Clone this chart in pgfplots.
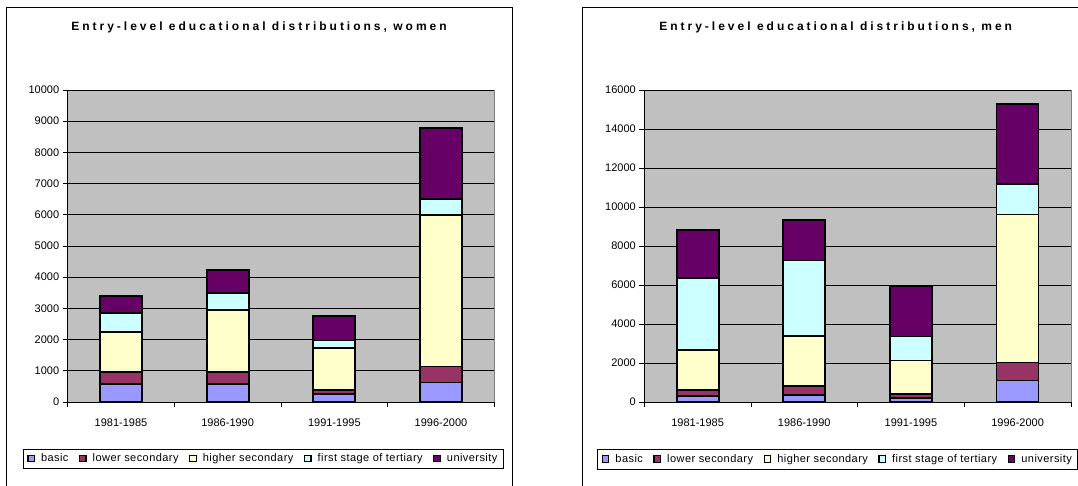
\documentclass[border=0pt]{standalone}
\usepackage{fontspec}
\setmainfont{Liberation Sans}
\newfontfamily\titlefont{Liberation Sans}[LetterSpace=25]
\newfontfamily\legfont{Liberation Sans}[LetterSpace=4]
\usepackage{pgfplots}
\pgfplotsset{compat=1.18}
\definecolor{cbasic}{HTML}{9999FF}
\definecolor{clower}{HTML}{993366}
\definecolor{chigher}{HTML}{FFFFCC}
\definecolor{ctert}{HTML}{CCFFFF}
\definecolor{cuni}{HTML}{660066}
\definecolor{cplot}{HTML}{C0C0C0}
\definecolor{cborder}{HTML}{808080}
\pgfplotsset{
  excel/.style={
    scale only axis,
    anchor=south west,
    width=426.6pt, height=312pt,
    ybar stacked,
    bar width=42pt,
    xmin=-0.5, xmax=3.5,
    ymin=0,
    scaled y ticks=false,
    xtick={0,1,2,3},
    xticklabels={1981-1985,1986-1990,1991-1995,1996-2000},
    minor xtick={-0.5,0.5,1.5,2.5,3.5},
    major x tick style={draw=none},
    tick align=outside,
    major tick length=5pt,
    minor tick length=5pt,
    tick style={black, line width=0.8pt},
    axis x line*=bottom,
    axis y line*=left,
    axis line style={-, black, line width=0.9pt},
    axis background/.style={fill=cplot, draw=cborder, line width=0.8pt},
    ymajorgrids,
    grid style={black, line width=0.8pt},
    /pgf/number format/assume math mode=true,
    /pgf/number format/set thousands separator={},
    yticklabel style={font=\fontsize{11}{13}\selectfont},
    xticklabel style={font=\fontsize{11}{13}\selectfont, yshift=-8pt},
    every axis plot/.append style={draw=black, line width=1.8pt},
    legend image code/.code={\draw[#1, draw=black, line width=1.3pt] (0pt,-3pt) rectangle (6.5pt,3.5pt);},
    legend columns=-1,
    legend style={anchor=center, draw=black, line width=0.8pt,
      font=\legfont\fontsize{11}{13}\selectfont,
      inner xsep=4pt, inner ysep=3pt,
      /tikz/every even column/.append style={column sep=8.5pt},
      /tikz/every odd column/.append style={column sep=4pt}},
    title style={anchor=center, font=\titlefont\bfseries\fontsize{12}{14}\selectfont},
  }
}
\begin{document}
\begin{tikzpicture}[x=1pt,y=1pt]
\useasboundingbox (0,0) rectangle (1078,485);
\fill[white] (0,0) rectangle (1078,485);
\clip (0,0) rectangle (1078,485);
\draw[line width=1pt] (6.5,477) rectangle (512,-10);
\draw[line width=1pt] (582.7,477) rectangle (1088.4,-10);

\begin{axis}[excel, at={(67.7pt,83pt)},
  ymax=10000, ytick={0,1000,...,10000},
  title={Entry-level educational distributions, women},
  title style={at={(0.4484,1.1827)}},
  legend style={at={(0.4585,-0.1817)}}]
\addplot[fill=cbasic] coordinates {(0,570) (1,570) (2,245) (3,625)};
\addplot[fill=clower] coordinates {(0,390) (1,390) (2,140) (3,515)};
\addplot[fill=chigher] coordinates {(0,1280) (1,1990) (2,1335) (3,4860)};
\addplot[fill=ctert] coordinates {(0,620) (1,550) (2,250) (3,510)};
\addplot[fill=cuni] coordinates {(0,540) (1,730) (2,785) (3,2270)};
\legend{basic, lower secondary, higher secondary, first stage of tertiary, university}
\end{axis}

\begin{axis}[excel, at={(644.3pt,83pt)},
  ymax=16000, ytick={0,2000,...,16000},
  title={Entry-level educational distributions, men},
  title style={at={(0.4486,1.1827)}},
  legend style={at={(0.4535,-0.1837)}}]
\addplot[fill=cbasic] coordinates {(0,300) (1,376) (2,185) (3,1100)};
\addplot[fill=clower] coordinates {(0,330) (1,454) (2,205) (3,930)};
\addplot[fill=chigher] coordinates {(0,2020) (1,2540) (2,1740) (3,7585)};
\addplot[fill=ctert] coordinates {(0,3690) (1,3885) (2,1230) (3,1555)};
\addplot[fill=cuni] coordinates {(0,2490) (1,2070) (2,2580) (3,4130)};
\legend{basic, lower secondary, higher secondary, first stage of tertiary, university}
\end{axis}
\end{tikzpicture}
\end{document}
